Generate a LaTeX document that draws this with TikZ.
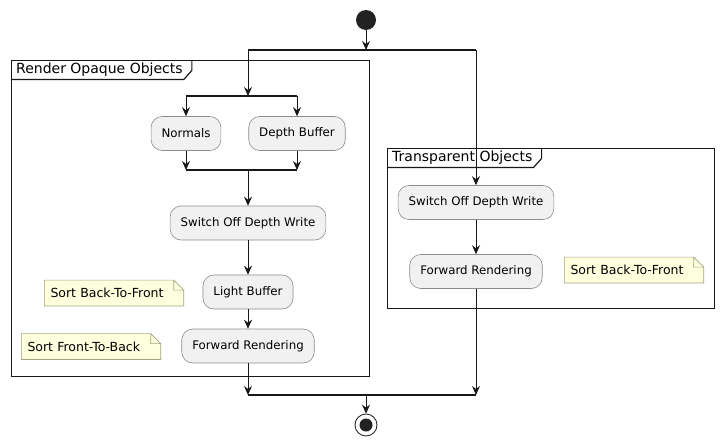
\documentclass[tikz,border=0pt]{standalone}
\usepackage{fontspec}
\setmainfont{DejaVu Sans}
\usetikzlibrary{arrows.meta,backgrounds,calc}
\definecolor{actfill}{HTML}{F1F1F1}
\definecolor{actline}{HTML}{8C8C8C}
\definecolor{notefill}{HTML}{FEFFDD}
\definecolor{noteline}{HTML}{A3A37E}
\definecolor{ink}{HTML}{181818}
\definecolor{dot}{HTML}{222222}
\tikzset{
	>={Stealth[length=9pt,width=8pt,inset=3pt]},
	every node/.style={font=\fontsize{11.8}{14}\selectfont},
	action/.style={draw=actline, fill=actfill, line width=.6pt, rounded corners=11pt, minimum height=34pt, inner xsep=10.5pt},
	note/.style={font=\fontsize{12.5}{15}\selectfont, text width=127pt, inner xsep=6pt, minimum height=25.5pt, align=left},
	notebox/.style={draw=noteline, fill=notefill, line width=.6pt},
	partition/.style={draw=ink, line width=1.4pt, inner sep=0pt, anchor=north west},
	partitiontitle/.style={font=\fontsize{14}{16}\selectfont, anchor=north west, inner xsep=5pt, inner ysep=0pt, minimum height=19pt},
	flow/.style={->, draw=ink, line width=1pt},
	bar/.style={draw=ink, line width=1.2pt},
	startnode/.style={circle, fill=dot, minimum size=20pt, inner sep=0pt},
	stopnode/.style={circle, draw=ink, line width=.8pt, minimum size=22pt, inner sep=0pt,
		path picture={\fill[dot] (path picture bounding box.center) circle (6.5pt);}},
}

\begin{document}
\begin{tikzpicture}[x=1pt, y=-1pt]
	\useasboundingbox (0,0) rectangle (723,447);

	\node[partition, minimum width=358pt, minimum height=315.5pt] (opaque) at (11,60) {};
	\node[partitiontitle] (opaquet) at (opaque.north west) {Render Opaque Objects};
	\node[partition, minimum width=326.5pt, minimum height=160pt] (transp) at (387,148) {};
	\node[partitiontitle] (transpt) at (transp.north west) {Transparent Objects};
	\foreach \t in {opaquet, transpt}
		\draw[ink, line width=1.2pt] (\t.south west) -- ([xshift=-4pt]\t.south east)
			-- ([xshift=4pt, yshift=9pt]\t.south east) -- ([xshift=4pt]\t.north east);

	\node[startnode] (start) at (366,20) {};
	\coordinate (f1) at (366,50);
	\coordinate (f1l) at (248,50);
	\coordinate (f1r) at (476,50);
	\coordinate (f2) at (248,96);
	\coordinate (f2l) at (186,96);
	\coordinate (f2r) at (297,96);
	\node[action] (normals) at (186,133.5) {Normals};
	\node[action] (depth) at (297,133.5) {Depth Buffer};
	\coordinate (j2l) at (186,170);
	\coordinate (j2r) at (297,170);
	\coordinate (j2) at (248,170);
	\node[action] (swoff) at (248,223) {Switch Off Depth Write};
	\node[action] (light) at (248,292) {Light Buffer};
	\node[action] (fwd) at (248,346) {Forward Rendering};
	\node[note] (sortbf) at (114,293) {Sort Back-To-Front};
	\node[note] (sortfb) at (91,346.5) {Sort Front-To-Back};

	\node[action] (swofft) at (476,202.5) {Switch Off Depth Write};
	\node[action] (fwdt) at (476,271.5) {Forward Rendering};
	\node[note] (sortbft) at (634,270) {Sort Back-To-Front};

	\coordinate (j3l) at (248,395);
	\coordinate (j3) at (366,395);
	\coordinate (j3r) at (476,395);
	\node[stopnode] (stop) at (366,425) {};

	\begin{scope}[on background layer]
		\foreach \n in {sortbf, sortfb, sortbft}
			\draw[notebox] (\n.south west) -- (\n.south east) -- ([yshift=-10pt]\n.north east)
				-- ([xshift=-10pt]\n.north east) -- (\n.north west) -- cycle
				([xshift=-10pt]\n.north east) |- ([yshift=-10pt]\n.north east);
	\end{scope}

	\draw[flow] (start) -- (f1);
	\draw[bar] (f1l) -- (f1r);
	\draw[flow] (f1l) -- (f2);
	\draw[flow] (f1r) -- (swofft);
	\draw[bar] (f2l) -- (f2r);
	\draw[flow] (f2l) -- (normals);
	\draw[flow] (f2r) -- (depth);
	\draw[flow] (normals) -- (j2l);
	\draw[flow] (depth) -- (j2r);
	\draw[bar] (j2l) -- (j2r);
	\draw[flow] (j2) -- (swoff);
	\draw[flow] (swoff) -- (light);
	\draw[flow] (light) -- (fwd);
	\draw[flow] (fwd) -- (j3l);
	\draw[flow] (swofft) -- (fwdt);
	\draw[flow] (fwdt) -- (j3r);
	\draw[bar] (j3l) -- (j3r);
	\draw[flow] (j3) -- (stop);
\end{tikzpicture}
\end{document}
